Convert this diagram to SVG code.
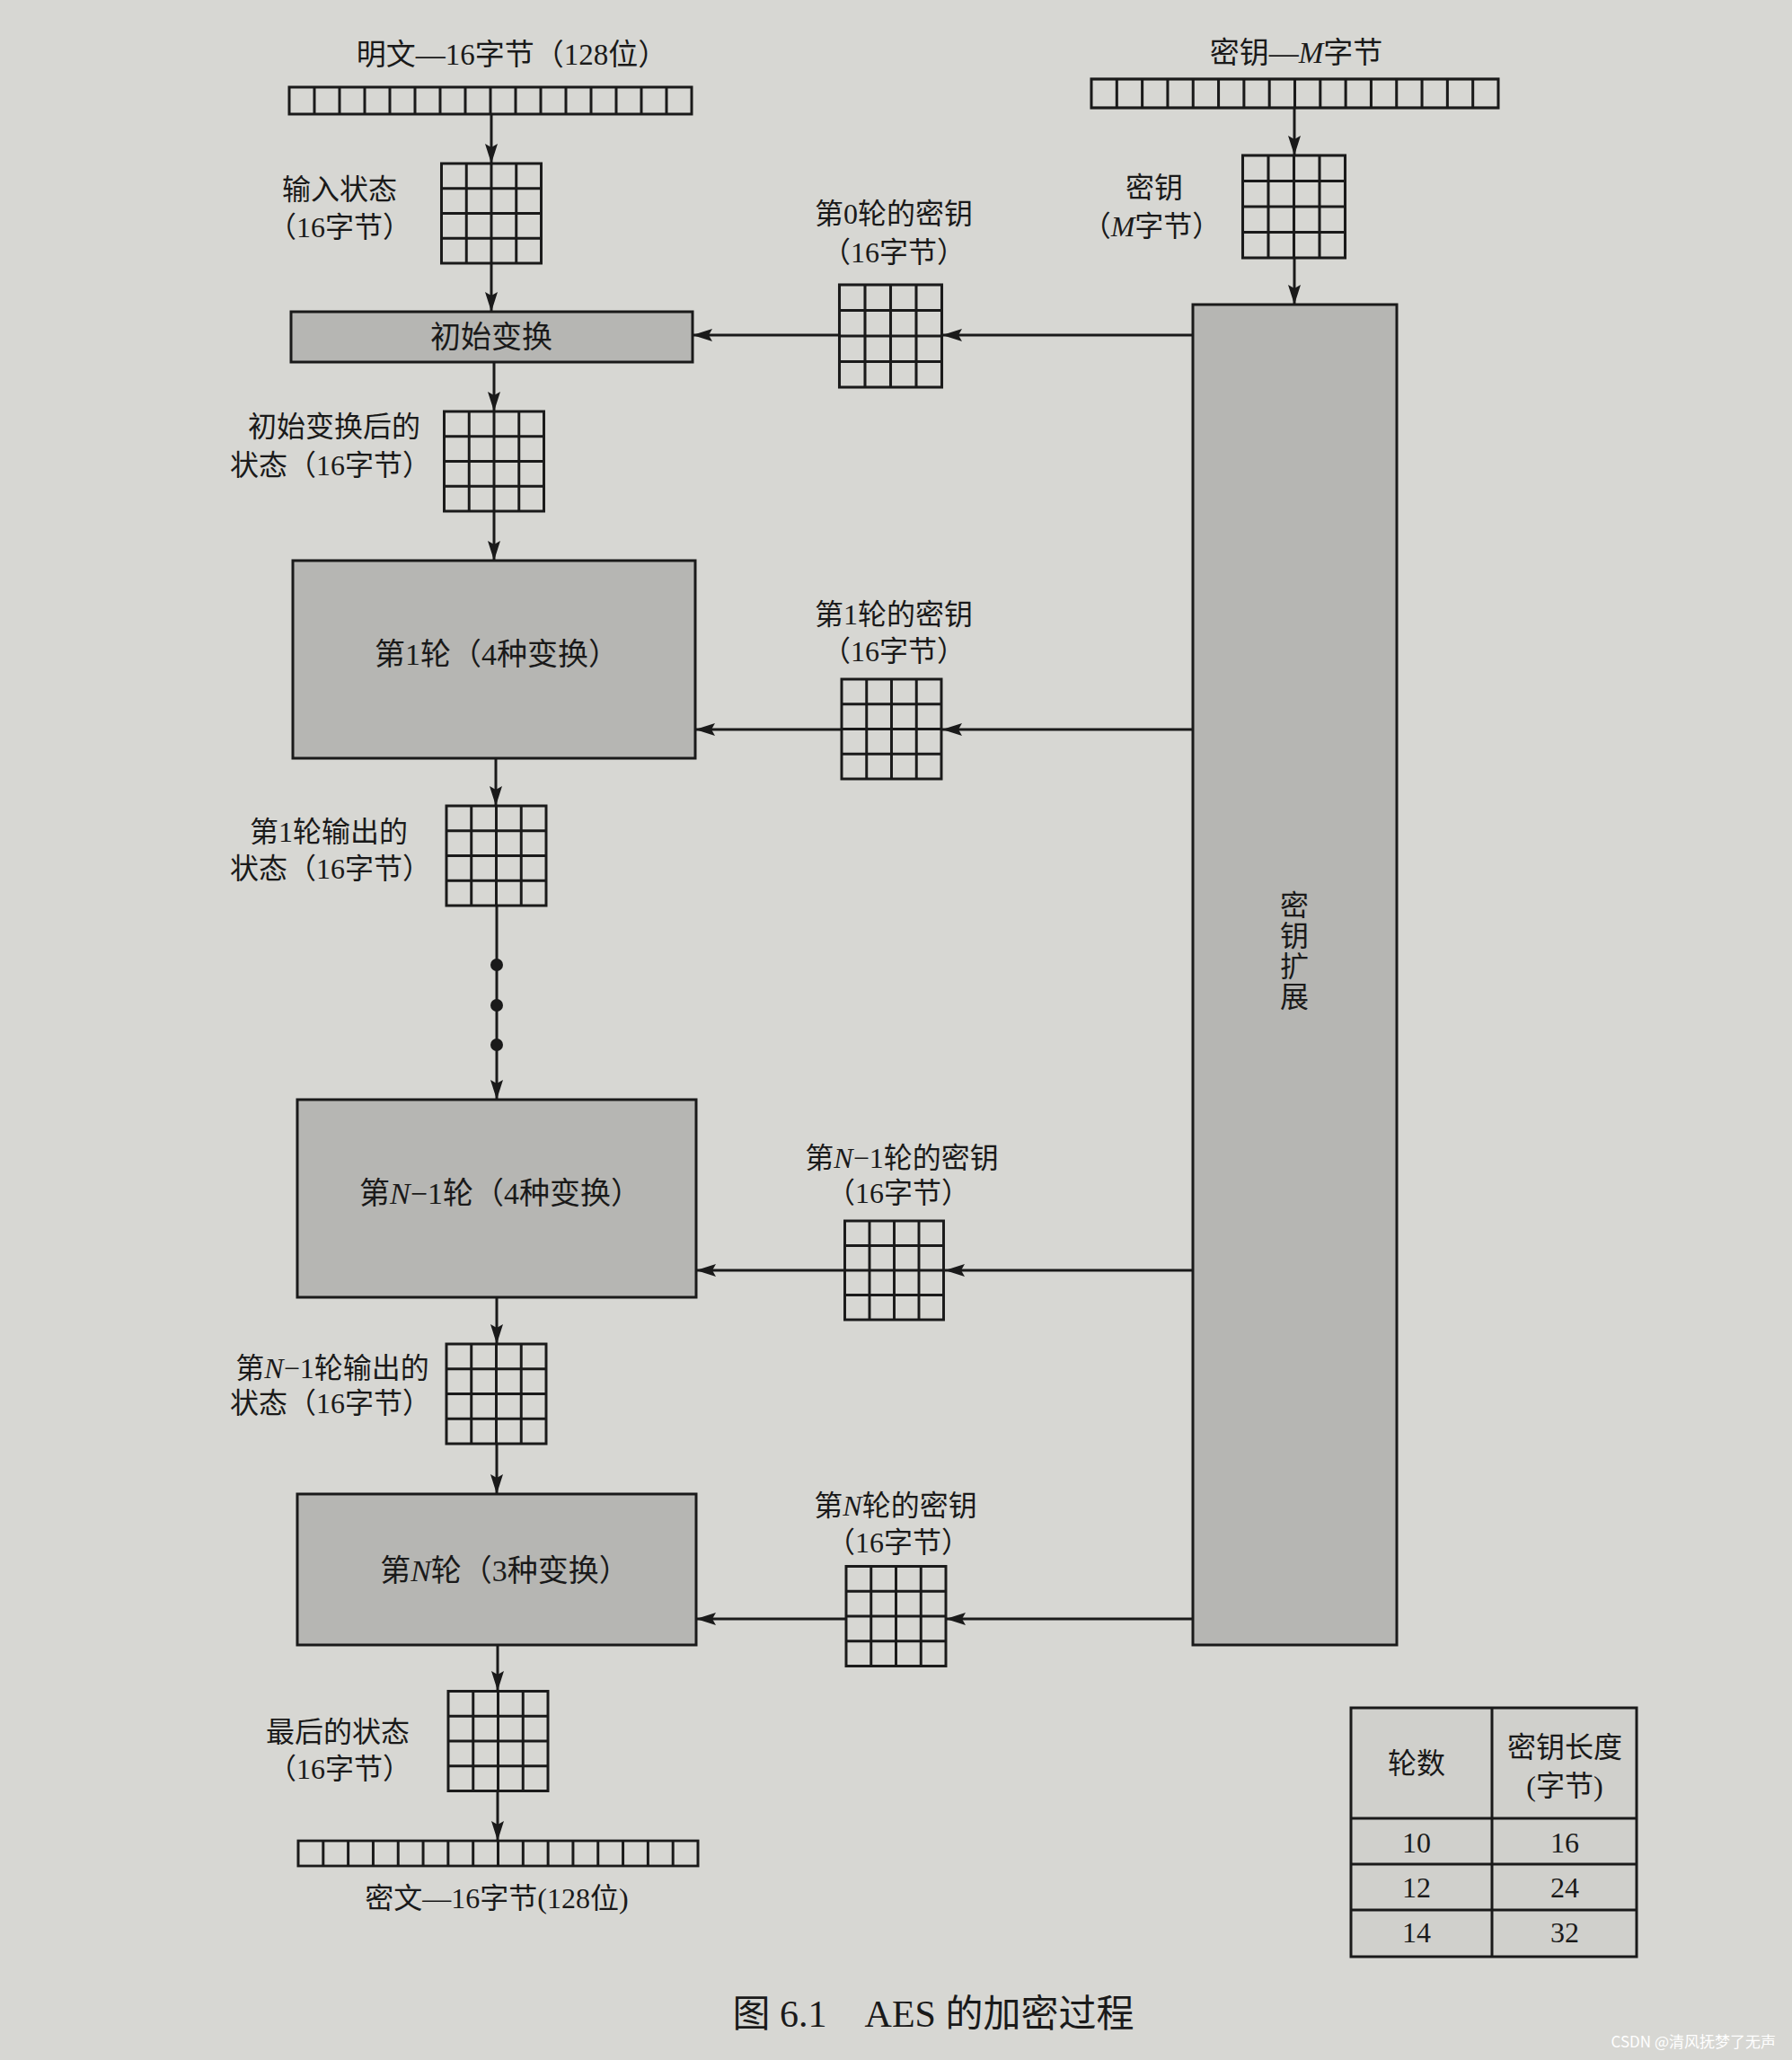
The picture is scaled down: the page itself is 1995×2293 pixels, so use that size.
<svg xmlns="http://www.w3.org/2000/svg" xmlns:xlink="http://www.w3.org/1999/xlink" width="1995" height="2293" viewBox="0 0 1995 2293">
<style>
.t{font-family:"Liberation Serif","Noto Sans CJK SC",serif;fill:#1a1a1a;text-anchor:middle}
.lab{font-size:32px}
.box{fill:#b6b6b3;stroke:#1a1a1a;stroke-width:3}
.ln{stroke:#1a1a1a;stroke-width:3;fill:none}
.it{font-style:italic}
</style>
<defs>
<marker id="ah" viewBox="0 0 22 14" refX="22" refY="7" markerWidth="22" markerHeight="14" markerUnits="userSpaceOnUse" orient="auto">
<path d="M0,0 L22,7 L0,14 L4,7 Z" fill="#1a1a1a"/>
</marker>
<symbol id="grid" viewBox="0 0 112 112" overflow="visible">
<rect x="0" y="0" width="112" height="112" fill="none" stroke="#1a1a1a" stroke-width="3"/>
<path d="M28,0V112M56,0V112M84,0V112M0,28H112M0,56H112M0,84H112" stroke="#1a1a1a" stroke-width="3" fill="none"/>
</symbol>
<symbol id="bar" viewBox="0 0 448 30" preserveAspectRatio="none" overflow="visible">
<rect x="0" y="0" width="448" height="30" fill="none" stroke="#1a1a1a" stroke-width="3"/>
<path d="M28,0V30M56,0V30M84,0V30M112,0V30M140,0V30M168,0V30M196,0V30M224,0V30M252,0V30M280,0V30M308,0V30M336,0V30M364,0V30M392,0V30M420,0V30" stroke="#1a1a1a" stroke-width="3" fill="none"/>
</symbol>
</defs>
<rect x="0" y="0" width="1995" height="2293" fill="#d7d7d3"/>

<g id="connectors">
<line class="ln" x1="547" y1="127" x2="547" y2="182" marker-end="url(#ah)"/>
<line class="ln" x1="547" y1="293" x2="547" y2="347" marker-end="url(#ah)"/>
<line class="ln" x1="550" y1="403" x2="550" y2="458" marker-end="url(#ah)"/>
<line class="ln" x1="550" y1="569" x2="550" y2="624" marker-end="url(#ah)"/>
<line class="ln" x1="552" y1="844" x2="552" y2="897" marker-end="url(#ah)"/>
<line class="ln" x1="553" y1="1008" x2="553" y2="1224" marker-end="url(#ah)"/>
<circle cx="553" cy="1074" r="7" fill="#1a1a1a"/>
<circle cx="553" cy="1119" r="7" fill="#1a1a1a"/>
<circle cx="553" cy="1163" r="7" fill="#1a1a1a"/>
<line class="ln" x1="553" y1="1444" x2="553" y2="1496" marker-end="url(#ah)"/>
<line class="ln" x1="553" y1="1607" x2="553" y2="1663" marker-end="url(#ah)"/>
<line class="ln" x1="554" y1="1831" x2="554" y2="1882" marker-end="url(#ah)"/>
<line class="ln" x1="554" y1="1994" x2="554" y2="2049" marker-end="url(#ah)"/>
<line class="ln" x1="1441" y1="120" x2="1441" y2="173" marker-end="url(#ah)"/>
<line class="ln" x1="1441" y1="287" x2="1441" y2="339" marker-end="url(#ah)"/>
<line class="ln" x1="1328" y1="373" x2="1049" y2="373" marker-end="url(#ah)"/>
<line class="ln" x1="934" y1="373" x2="771" y2="373" marker-end="url(#ah)"/>
<line class="ln" x1="1328" y1="812" x2="1049" y2="812" marker-end="url(#ah)"/>
<line class="ln" x1="936" y1="812" x2="774" y2="812" marker-end="url(#ah)"/>
<line class="ln" x1="1328" y1="1414" x2="1052" y2="1414" marker-end="url(#ah)"/>
<line class="ln" x1="939" y1="1414" x2="775" y2="1414" marker-end="url(#ah)"/>
<line class="ln" x1="1328" y1="1802" x2="1053" y2="1802" marker-end="url(#ah)"/>
<line class="ln" x1="942" y1="1802" x2="775" y2="1802" marker-end="url(#ah)"/>
</g>

<g id="plaintext">
<text class="t" x="570" y="72" font-size="33">明文—16字节（128位）</text>
<use xlink:href="#bar" x="322" y="97" width="448" height="30"/>
</g>
<g id="input-state">
<use xlink:href="#grid" x="491" y="182" width="112" height="111"/>
<text class="t lab" x="378" y="222">输入状态</text>
<text class="t lab" x="378" y="264">（16字节）</text>
</g>
<g id="initial-transform">
<rect class="box" x="324" y="347" width="447" height="56"/>
<text class="t" x="547" y="387" font-size="34">初始变换</text>
</g>
<g id="state-after-initial">
<use xlink:href="#grid" x="494" y="458" width="112" height="111"/>
<text class="t lab" x="372" y="486">初始变换后的</text>
<text class="t lab" x="368" y="529">状态（16字节）</text>
</g>
<g id="round-1">
<rect class="box" x="326" y="624" width="448" height="220"/>
<text class="t" x="553" y="740" font-size="34">第1轮（4种变换）</text>
</g>
<g id="state-round-1">
<use xlink:href="#grid" x="497" y="897" width="111" height="111"/>
<text class="t lab" x="366" y="937">第1轮输出的</text>
<text class="t lab" x="368" y="978">状态（16字节）</text>
</g>
<g id="round-n-1">
<rect class="box" x="331" y="1224" width="444" height="220"/>
<text class="t" x="557" y="1340" font-size="34">第<tspan class="it">N</tspan>−1轮（4种变换）</text>
</g>
<g id="state-round-n-1">
<use xlink:href="#grid" x="497" y="1496" width="111" height="111"/>
<text class="t lab" x="370" y="1534">第<tspan class="it">N</tspan>−1轮输出的</text>
<text class="t lab" x="368" y="1573">状态（16字节）</text>
</g>
<g id="round-n">
<rect class="box" x="331" y="1663" width="444" height="168"/>
<text class="t" x="562" y="1760" font-size="34">第<tspan class="it">N</tspan>轮（3种变换）</text>
</g>
<g id="final-state">
<use xlink:href="#grid" x="499" y="1882" width="111" height="112"/>
<text class="t lab" x="376" y="1939">最后的状态</text>
<text class="t lab" x="378" y="1980">（16字节）</text>
</g>
<g id="ciphertext">
<use xlink:href="#bar" x="332" y="2049" width="445" height="28"/>
<text class="t" x="553" y="2124" font-size="32">密文—16字节(128位)</text>
</g>

<g id="key">
<text class="t" x="1443" y="70" font-size="33">密钥—<tspan class="it">M</tspan>字节</text>
<use xlink:href="#bar" x="1215" y="88" width="453" height="32"/>
</g>
<g id="key-matrix">
<use xlink:href="#grid" x="1383" y="173" width="115" height="114"/>
<text class="t lab" x="1285" y="220">密钥</text>
<text class="t lab" x="1282" y="263">（<tspan class="it">M</tspan>字节）</text>
</g>
<g id="key-expansion">
<rect class="box" x="1328" y="339" width="227" height="1492"/>
<text class="t lab" x="1441" y="1019">密</text>
<text class="t lab" x="1441" y="1053">钥</text>
<text class="t lab" x="1441" y="1087">扩</text>
<text class="t lab" x="1441" y="1121">展</text>
</g>
<g id="round-key-0">
<use xlink:href="#grid" x="934" y="317" width="115" height="114"/>
<text class="t lab" x="995" y="249">第0轮的密钥</text>
<text class="t lab" x="995" y="292">（16字节）</text>
</g>
<g id="round-key-1">
<use xlink:href="#grid" x="936" y="756" width="113" height="111"/>
<text class="t lab" x="995" y="695">第1轮的密钥</text>
<text class="t lab" x="995" y="736">（16字节）</text>
</g>
<g id="round-key-n-1">
<use xlink:href="#grid" x="939" y="1359" width="113" height="110"/>
<text class="t lab" x="1004" y="1300">第<tspan class="it">N</tspan>−1轮的密钥</text>
<text class="t lab" x="1000" y="1339">（16字节）</text>
</g>
<g id="round-key-n">
<use xlink:href="#grid" x="942" y="1743" width="111" height="112"/>
<text class="t lab" x="997" y="1687">第<tspan class="it">N</tspan>轮的密钥</text>
<text class="t lab" x="1000" y="1728">（16字节）</text>
</g>

<g id="table">
<rect x="1504" y="1901" width="318" height="277" fill="#d0d0cc" stroke="#1a1a1a" stroke-width="3"/>
<path class="ln" d="M1661,1901V2178M1504,2024H1822M1504,2075H1822M1504,2126H1822" stroke-width="4"/>
<text class="t lab" x="1577" y="1974">轮数</text>
<text class="t lab" x="1742" y="1956">密钥长度</text>
<text class="t lab" x="1742" y="1999">(字节)</text>
<text class="t lab" x="1577" y="2062">10</text>
<text class="t lab" x="1742" y="2062">16</text>
<text class="t lab" x="1577" y="2112">12</text>
<text class="t lab" x="1742" y="2112">24</text>
<text class="t lab" x="1577" y="2162">14</text>
<text class="t lab" x="1742" y="2162">32</text>
</g>

<text class="t" x="1039" y="2256" font-size="42">图 6.1　AES 的加密过程</text>
<text x="1977" y="2279" font-family="Noto Sans CJK SC,sans-serif" font-size="17" fill="#ffffff" text-anchor="end">CSDN @清风抚梦了无声</text>
</svg>
